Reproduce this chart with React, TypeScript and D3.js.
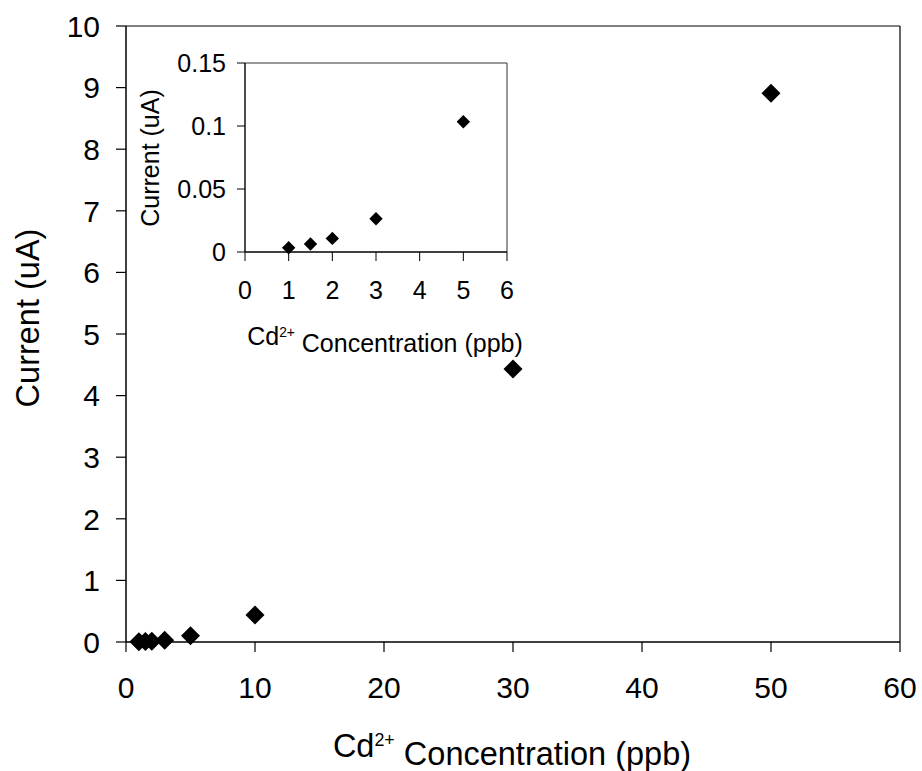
import React from "react";
import * as d3 from "d3";

const concentrations = [1, 1.5, 2, 3, 5, 10, 30, 50];
const currents = [0.0034, 0.0063, 0.0108, 0.0264, 0.1034, 0.44, 4.43, 8.91];
const insetConcentrations = [1, 1.5, 2, 3, 5];
const insetCurrents = [0.0034, 0.0063, 0.0108, 0.0264, 0.1034];
const mainXTicks = [0, 10, 20, 30, 40, 50, 60];
const mainYTicks = [0, 1, 2, 3, 4, 5, 6, 7, 8, 9, 10];
const insetXTicks = [0, 1, 2, 3, 4, 5, 6];
const insetYTicks = [0, 0.05, 0.1, 0.15];
const xTitle = "Concentration (ppb)";
const yTitle = "Current (uA)";

const FONT = "Liberation Sans, Arial, sans-serif";

function diamond(cx: number, cy: number, r: number) {
  return `M${cx},${cy - r}L${cx + r},${cy}L${cx},${cy + r}L${cx - r},${cy}Z`;
}

export default function App() {
  const W = 922, H = 771;
  const x = d3.scaleLinear().domain([0, 60]).range([126, 900]);
  const y = d3.scaleLinear().domain([0, 10]).range([642, 26]);
  const ix = d3.scaleLinear().domain([0, 6]).range([245, 507]);
  const iy = d3.scaleLinear().domain([0, 0.15]).range([252, 63]);
  const mainFs = 30;
  const mainTitleFs = 32.5;
  const insetFs = 25;
  const insetTitleFs = 25;
  const fmt = (v: number) => String(v);

  return (
    <svg width={W} height={H} style={{ position: "absolute", left: 0, top: 0, background: "#fff" }} fontFamily={FONT}>
      <rect x={0} y={0} width={W} height={H} fill="#fff" />
      {/* main plot frame */}
      <line x1={x(0)} x2={x(60)} y1={y(10)} y2={y(10)} stroke="#000" strokeWidth={1.2} />
      <line x1={x(60)} x2={x(60)} y1={y(10)} y2={y(0)} stroke="#000" strokeWidth={1.2} />
      <line x1={x(0)} x2={x(60)} y1={y(0)} y2={y(0)} stroke="#000" strokeWidth={1.5} />
      <line x1={x(0)} x2={x(0)} y1={y(10)} y2={y(0)} stroke="#000" strokeWidth={1.5} />
      {mainYTicks.map((t) => (
        <g key={"my" + t}>
          <line x1={x(0) - 10} x2={x(0)} y1={y(t)} y2={y(t)} stroke="#000" strokeWidth={1.2} />
          <text x={100} y={y(t)} dy="0.36em" textAnchor="end" fontSize={mainFs}>{fmt(t)}</text>
        </g>
      ))}
      {mainXTicks.map((t) => (
        <g key={"mx" + t}>
          <line x1={x(t)} x2={x(t)} y1={y(0)} y2={y(0) + 10} stroke="#000" strokeWidth={1.2} />
          <text x={x(t)} y={687} dy="0.36em" textAnchor="middle" fontSize={mainFs}>{fmt(t)}</text>
        </g>
      ))}
      <text x={512} y={745} dy="0.36em" textAnchor="middle" fontSize={mainTitleFs}>
        Cd<tspan dy="-0.6em" fontSize={mainTitleFs * 0.55}>2+</tspan><tspan dy="0.6em"> {xTitle}</tspan>
      </text>
      <text transform={`translate(27,318) rotate(-90)`} dy="0.36em" textAnchor="middle" fontSize={mainTitleFs}>{yTitle}</text>
      {concentrations.map((c, i) => (
        <path key={"mp" + i} d={diamond(x(c), y(currents[i]), 9.5)} fill="#000" />
      ))}

      {/* inset */}
      <rect x={ix(0)} y={iy(0.15)} width={ix(6) - ix(0)} height={iy(0) - iy(0.15)} fill="#fff" stroke="none" />
      <line x1={ix(0)} x2={ix(6)} y1={iy(0.15)} y2={iy(0.15)} stroke="#333" strokeWidth={1} />
      <line x1={ix(6)} x2={ix(6)} y1={iy(0.15)} y2={iy(0)} stroke="#333" strokeWidth={1} />
      <line x1={ix(0)} x2={ix(6)} y1={iy(0)} y2={iy(0)} stroke="#000" strokeWidth={1.4} />
      <line x1={ix(0)} x2={ix(0)} y1={iy(0.15)} y2={iy(0)} stroke="#000" strokeWidth={1.4} />
      {insetYTicks.map((t) => (
        <g key={"iy" + t}>
          <line x1={ix(0) - 8} x2={ix(0)} y1={iy(t)} y2={iy(t)} stroke="#000" strokeWidth={1} />
          <text x={226} y={iy(t)} dy="0.36em" textAnchor="end" fontSize={insetFs}>{fmt(t)}</text>
        </g>
      ))}
      {insetXTicks.map((t) => (
        <g key={"ix" + t}>
          <line x1={ix(t)} x2={ix(t)} y1={iy(0)} y2={iy(0) + 9} stroke="#000" strokeWidth={1} />
          <text x={ix(t)} y={290} dy="0.36em" textAnchor="middle" fontSize={insetFs}>{fmt(t)}</text>
        </g>
      ))}
      <text x={385} y={336} dy="0.36em" textAnchor="middle" fontSize={insetTitleFs}>
        Cd<tspan dy="-0.6em" fontSize={insetTitleFs * 0.55}>2+</tspan><tspan dy="0.6em"> {xTitle}</tspan>
      </text>
      <text transform={`translate(150,158) rotate(-90)`} dy="0.36em" textAnchor="middle" fontSize={insetTitleFs}>{yTitle}</text>
      {insetConcentrations.map((c, i) => (
        <path key={"ip" + i} d={diamond(ix(c), iy(insetCurrents[i]), 6.7)} fill="#000" />
      ))}
    </svg>
  );
}
